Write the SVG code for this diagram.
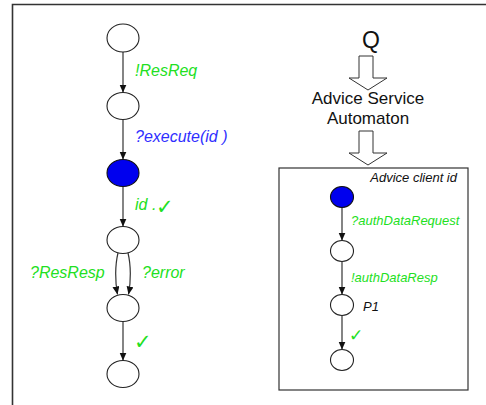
<svg xmlns="http://www.w3.org/2000/svg" width="486" height="405" viewBox="0 0 486 405">
  <style>
    .st { fill: #ffffff; stroke: #222222; stroke-width: 1.1; }
    .init { fill: #0000ee; stroke: #111111; stroke-width: 1.1; }
    .edge { fill: none; stroke: #333333; stroke-width: 1.2; }
    .lbl { font-family: "Liberation Sans", Arial, sans-serif; font-style: italic; }
    .g { fill: #22e022; }
    .b { fill: #2f2fff; }
    .k { fill: #111111; }
    .chk { font-family: "DejaVu Sans", sans-serif; fill: #22e022; }
    .hollow { fill: #ffffff; stroke: #333333; stroke-width: 1; }
    .title { font-family: "Liberation Sans", Arial, sans-serif; fill: #111111; }
  </style>
  <defs>
    <marker id="arrow" markerUnits="userSpaceOnUse" markerWidth="8" markerHeight="8" refX="8" refY="3.5" orient="auto">
      <path d="M0,0 L8,3.5 L0,7 Z" fill="#111111"/>
    </marker>
  </defs>

  <rect width="486" height="405" fill="#ffffff"/>

  <!-- outer frame (top and left edges) -->
  <path d="M12.5,405 L12.5,4.5 L486,4.5" fill="none" stroke="#333333" stroke-width="1.6"/>

  <!-- client automaton frame -->
  <rect id="client-box" x="279" y="168" width="189" height="222" fill="none" stroke="#333333" stroke-width="1.2"/>

  <!-- connectors -->
  <g id="connectors">
    <line class="edge" x1="123" y1="52" x2="123" y2="92.5" marker-end="url(#arrow)"/>
    <line class="edge" x1="123" y1="119.5" x2="123" y2="159.5" marker-end="url(#arrow)"/>
    <line class="edge" x1="123" y1="186.5" x2="123" y2="226.5" marker-end="url(#arrow)"/>
    <path class="edge" d="M118,253 C115,265 115,282 117.5,294.5" marker-end="url(#arrow)"/>
    <path class="edge" d="M128,253 C131,265 131,282 128.5,294.5" marker-end="url(#arrow)"/>
    <line class="edge" x1="123" y1="321.5" x2="123" y2="360.5" marker-end="url(#arrow)"/>

    <line class="edge" x1="342" y1="207.5" x2="342" y2="240.5" marker-end="url(#arrow)"/>
    <line class="edge" x1="342" y1="261.5" x2="342" y2="294.5" marker-end="url(#arrow)"/>
    <line class="edge" x1="342" y1="315.5" x2="342" y2="349.5" marker-end="url(#arrow)"/>

    <!-- hollow block arrows -->
    <path class="hollow" d="M359,56 L373,56 L373,78 L387,78 L368,90 L349,78 L359,78 Z"/>
    <path class="hollow" d="M359,131 L373,131 L373,153 L387,153 L368,165 L349,153 L359,153 Z"/>
  </g>

  <!-- service automaton states -->
  <g id="s0"><ellipse class="st" cx="123" cy="38" rx="16" ry="14"/></g>
  <g id="s1"><ellipse class="st" cx="123" cy="106" rx="16" ry="13.5"/></g>
  <g id="s2"><ellipse class="init" cx="123" cy="173" rx="16" ry="13.5"/></g>
  <g id="s3"><ellipse class="st" cx="123" cy="240" rx="16" ry="13.5"/></g>
  <g id="s4"><ellipse class="st" cx="123" cy="308" rx="16" ry="13.5"/></g>
  <g id="s5"><ellipse class="st" cx="123" cy="374" rx="16" ry="13.5"/></g>

  <!-- client automaton states -->
  <g id="c0"><ellipse class="init" cx="342" cy="197" rx="11.5" ry="10.5"/></g>
  <g id="c1"><ellipse class="st" cx="342" cy="251" rx="11.5" ry="10.5"/></g>
  <g id="c2"><ellipse class="st" cx="342" cy="305" rx="11.5" ry="10.5"/></g>
  <g id="c3"><ellipse class="st" cx="342" cy="360" rx="11.5" ry="10.5"/></g>

  <!-- transition labels, service side -->
  <g id="labels-service" font-size="16">
    <text class="lbl g" x="135" y="76">!ResReq</text>
    <text class="lbl b" x="135" y="142">?execute(id )</text>
    <text class="lbl g" x="135" y="210">id .</text>
    <text class="chk" x="156" y="214" font-size="21">✓</text>
    <text class="lbl g" x="30" y="278">?ResResp</text>
    <text class="lbl g" x="142" y="278">?error</text>
    <text class="chk" x="134" y="349" font-size="21">✓</text>
  </g>

  <!-- title and arrows -->
  <g id="title">
    <text class="title" x="371" y="48" font-size="23" text-anchor="middle">Q</text>
    <text class="title" x="368" y="104" font-size="17" text-anchor="middle">Advice Service</text>
    <text class="title" x="368" y="124" font-size="17" text-anchor="middle">Automaton</text>
  </g>

  <!-- transition labels, client side -->
  <g id="labels-client" font-size="13">
    <text class="lbl k" x="457" y="182" text-anchor="end">Advice client id</text>
    <text class="lbl g" x="351" y="225">?authDataRequest</text>
    <text class="lbl g" x="351" y="282">!authDataResp</text>
    <text class="lbl k" x="363" y="311">P1</text>
    <text class="chk" x="349" y="341" font-size="17">✓</text>
  </g>
</svg>
